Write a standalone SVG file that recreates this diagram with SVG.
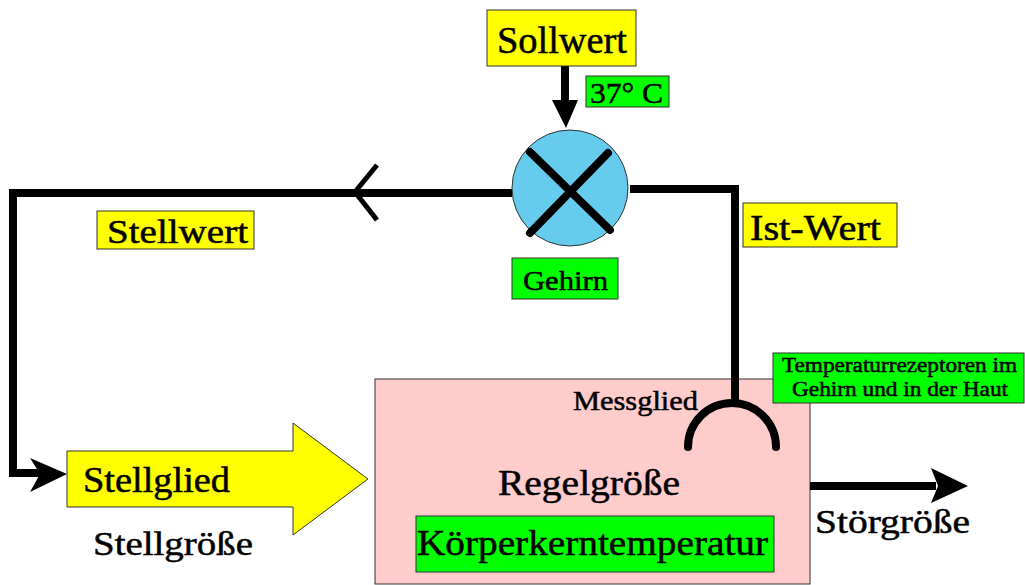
<svg xmlns="http://www.w3.org/2000/svg" width="1025" height="585" viewBox="0 0 1025 585" font-family="'Liberation Serif', 'Times New Roman', 'DejaVu Serif', serif">
<style>
text{font-family:'Liberation Serif','Times New Roman','DejaVu Serif',serif;fill:#000;stroke:#000;stroke-width:0.5}
.y{fill:#FFFF00;stroke:#333;stroke-width:1}
.g{fill:#00FF00;stroke:#333;stroke-width:1}
.w{fill:none;stroke:#000;stroke-width:8}
</style>
<rect width="1025" height="585" fill="#fff"/>
<g id="regelstrecke">
<rect x="375" y="379" width="435" height="205" fill="#FFCCCC" stroke="#333" stroke-width="1"/>
<text x="573" y="410" font-size="27" textLength="125" lengthAdjust="spacingAndGlyphs">Messglied</text>
<text x="498" y="495" font-size="35" textLength="182" lengthAdjust="spacingAndGlyphs">Regelgröße</text>
<rect class="g" x="416" y="516" width="358" height="56"/>
<text x="417" y="555" font-size="36" textLength="351" lengthAdjust="spacingAndGlyphs">Körperkerntemperatur</text>
</g>
<g id="connectors">
<line class="w" x1="565" y1="66" x2="565" y2="106"/>
<polygon points="552,100 578,100 566,128"/>
<polyline class="w" points="512,193 13,193 13,473 40,473" stroke-linejoin="miter"/>
<polygon points="67,474 30,458 40,474 30,492"/>
<polyline points="377,165 355,192 377,220" fill="none" stroke="#000" stroke-width="5"/>
<polyline class="w" points="630,189 735,189 735,405"/>
<path class="w" d="M688,447 A44,44 0 0 1 776,447" stroke-linecap="round"/>
<line class="w" x1="810" y1="486" x2="936" y2="486"/>
<polygon points="968,486 931,468 938,486 931,503"/>
</g>
<g id="sollwert">
<rect class="y" x="487" y="10" width="149" height="56"/>
<text x="497" y="53" font-size="37" textLength="130" lengthAdjust="spacingAndGlyphs">Sollwert</text>
</g>
<g id="sollwert-wert">
<rect class="g" x="586" y="76" width="83" height="31"/>
<text x="590" y="103" font-size="29" textLength="73" lengthAdjust="spacingAndGlyphs">37° C</text>
</g>
<g id="gehirn-vergleicher">
<circle cx="570" cy="188" r="58" fill="#66CCEE" stroke="#333" stroke-width="1"/>
<line x1="530" y1="152" x2="610" y2="230" stroke="#000" stroke-width="8" stroke-linecap="round"/>
<line x1="608" y1="153" x2="530" y2="233" stroke="#000" stroke-width="8" stroke-linecap="round"/>
</g>
<g id="gehirn">
<rect class="g" x="512" y="258" width="106" height="41"/>
<text x="523" y="290" font-size="27" textLength="85" lengthAdjust="spacingAndGlyphs">Gehirn</text>
</g>
<g id="stellwert">
<rect class="y" x="97" y="211" width="157" height="38"/>
<text x="107" y="243" font-size="34" textLength="141" lengthAdjust="spacingAndGlyphs">Stellwert</text>
</g>
<g id="istwert">
<rect class="y" x="743" y="203" width="154" height="44"/>
<text x="750" y="240" font-size="35" textLength="131" lengthAdjust="spacingAndGlyphs">Ist-Wert</text>
</g>
<g id="rezeptoren">
<rect class="g" x="773" y="353" width="251" height="50"/>
<text x="782" y="372" font-size="20" textLength="235" lengthAdjust="spacingAndGlyphs">Temperaturrezeptoren im</text>
<text x="792" y="396" font-size="20" textLength="216" lengthAdjust="spacingAndGlyphs">Gehirn und in der Haut</text>
</g>
<g id="stellglied">
<polygon class="y" points="67,451 293,451 293,423 368,479 293,535 293,507 67,507"/>
<text x="83" y="492" font-size="35" textLength="147" lengthAdjust="spacingAndGlyphs">Stellglied</text>
</g>
<g id="stellgroesse">
<text x="93" y="555" font-size="34" textLength="160" lengthAdjust="spacingAndGlyphs">Stellgröße</text>
</g>
<g id="stoergroesse">
<text x="815" y="533" font-size="34" textLength="155" lengthAdjust="spacingAndGlyphs">Störgröße</text>
</g>
</svg>
